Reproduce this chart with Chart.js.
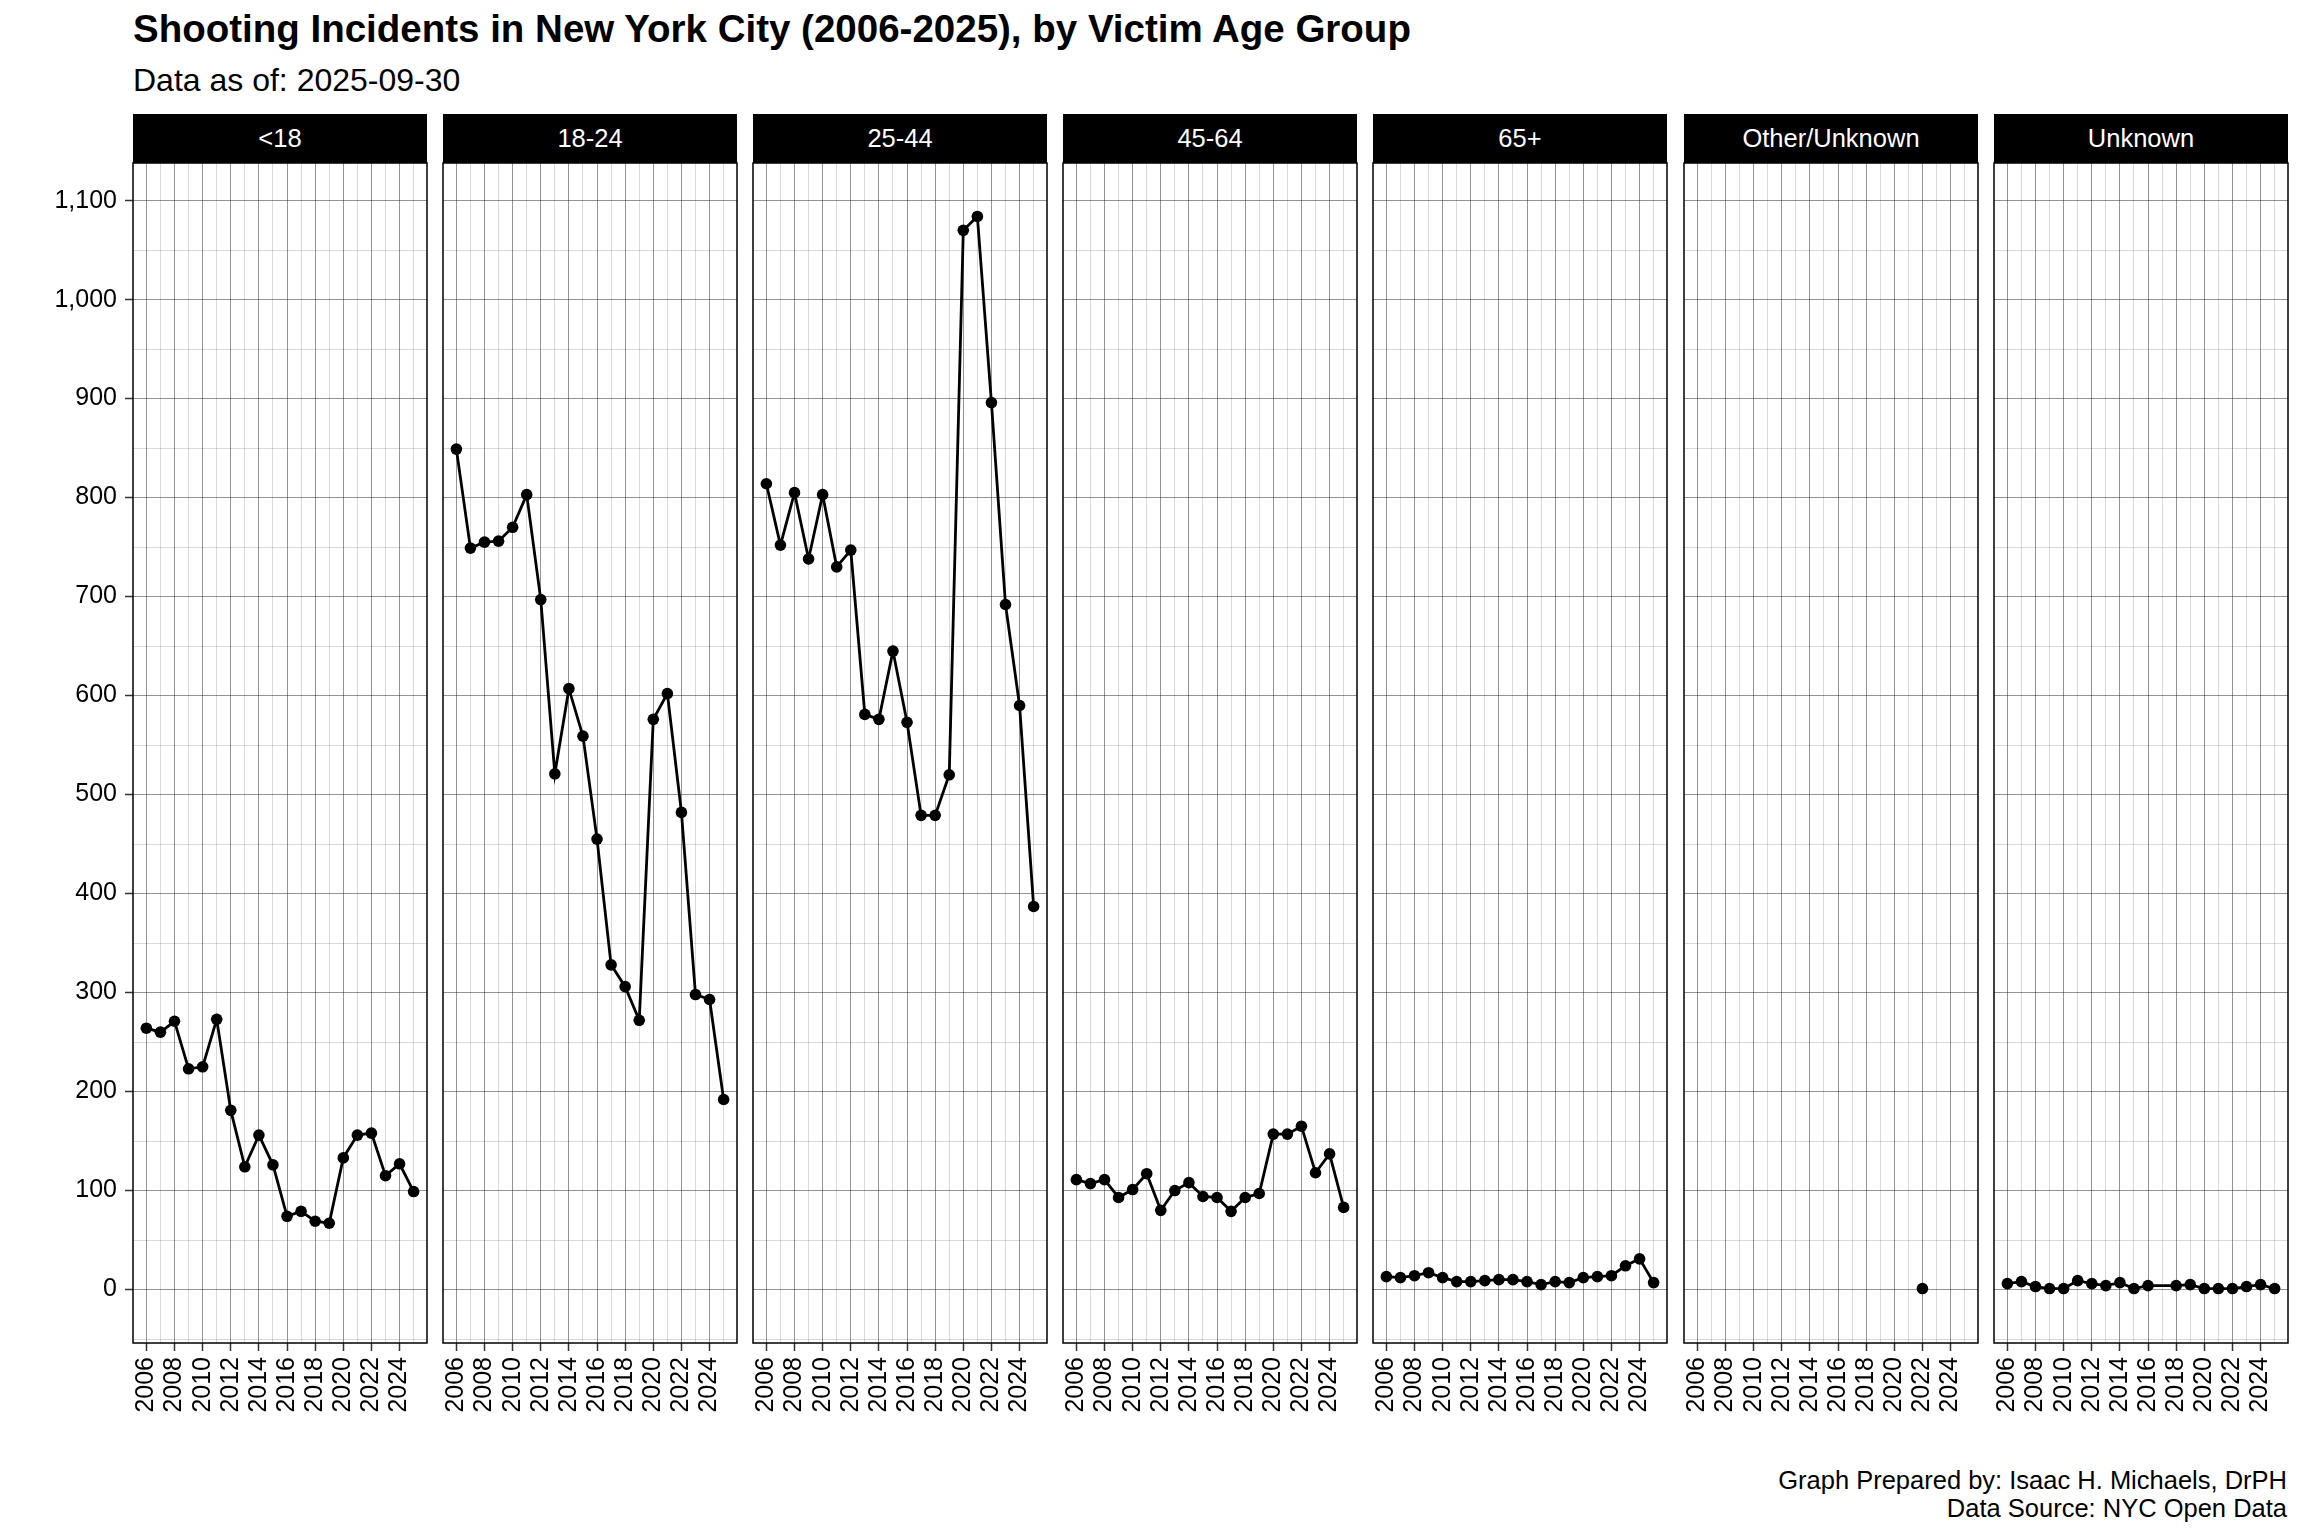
<!DOCTYPE html>
<html>
<head>
<meta charset="utf-8">
<script src="https://cdn.jsdelivr.net/npm/chart.js@4.4.1/dist/chart.umd.min.js"></script>
<style>
  html, body { margin: 0; padding: 0; background: #fff; }
  body { width: 2304px; height: 1536px; position: relative; overflow: hidden; font-family: "Liberation Sans", Arial, sans-serif; color: #000; }
  .title { position: absolute; left: 133px; top: 10px; font-size: 38.5px; font-weight: bold; line-height: 1; white-space: nowrap; }
  .subtitle { position: absolute; left: 133px; top: 64px; font-size: 32px; line-height: 1; white-space: nowrap; }
  .strip { position: absolute; top: 114px; height: 49px; background: #000; color: #fff; font-size: 25.5px; display: flex; align-items: center; justify-content: center; }
  .panel { position: absolute; }
  .caption { position: absolute; right: 17px; top: 1466px; font-size: 25.5px; line-height: 28px; text-align: right; white-space: nowrap; }
</style>
</head>
<body>
<div class="title">Shooting Incidents in New York City (2006-2025), by Victim Age Group</div>
<div class="subtitle">Data as of: 2025-09-30</div>
<div class="caption">Graph Prepared by: Isaac H. Michaels, DrPH<br>Data Source: NYC Open Data</div>

<script>
// anos e grupos
const years = [2006, 2007, 2008, 2009, 2010, 2011, 2012, 2013, 2014, 2015,
               2016, 2017, 2018, 2019, 2020, 2021, 2022, 2023, 2024, 2025];
const groups = ["<18", "18-24", "25-44", "45-64", "65+", "Other/Unknown", "Unknown"];

const under18 = [264, 260, 271, 223, 225, 273, 181, 124, 156, 126, 74, 79, 69, 67, 133, 156, 158, 115, 127, 99];
const age18to24 = [849, 749, 755, 756, 770, 803, 697, 521, 607, 559, 455, 328, 306, 272, 576, 602, 482, 298, 293, 192];
const age25to44 = [814, 752, 805, 738, 803, 730, 747, 581, 576, 645, 573, 479, 479, 520, 1070, 1084, 896, 692, 590, 387];
const age45to64 = [111, 107, 111, 93, 101, 117, 80, 100, 108, 94, 93, 79, 93, 97, 157, 157, 165, 118, 137, 83];
const age65plus = [13, 12, 14, 17, 12, 8, 8, 9, 10, 10, 8, 5, 8, 7, 12, 13, 14, 24, 31, 7];
const otherUnknown = [null, null, null, null, null, null, null, null, null, null,
                      null, null, null, null, null, null, 1, null, null, null];
const unknown = [6, 8, 3, 1, 1, 9, 6, 4, 7, 1, 4, null, 4, 5, 1, 1, 1, 3, 5, 1];

const seriesList = [under18, age18to24, age25to44, age45to64, age65plus, otherUnknown, unknown];

const yMin = -54;
const yMax = 1138;
const xMin = 2005.05;
const xMax = 2025.95;

Chart.defaults.font.family = '"Liberation Sans", Arial, sans-serif';
Chart.defaults.color = "#000";

const panelBorder = {
    id: "panelBorder",
    afterDatasetsDraw(chart) {
        const a = chart.chartArea;
        const ctx = chart.ctx;
        ctx.save();
        ctx.strokeStyle = "#000";
        ctx.lineWidth = 1.5;
        ctx.strokeRect(a.left, a.top, a.right - a.left, a.bottom - a.top);
        ctx.restore();
    }
};

function gridColor(major) {
    return major ? "rgba(0,0,0,0.42)" : "rgba(0,0,0,0.15)";
}

const plotTop = 163;
const plotBottom = 1343;
const panelWidth = 294;
const axisHeight = 115;

function criarPainel(i) {
    const panelLeft = Math.round(133 + i * 310.1);
    const first = i === 0;

    const strip = document.createElement("div");
    strip.className = "strip";
    strip.style.left = panelLeft + "px";
    strip.style.width = panelWidth + "px";
    strip.textContent = groups[i];
    document.body.appendChild(strip);

    const canvasLeft = first ? 0 : panelLeft - 2;
    const canvasWidth = first ? panelLeft + panelWidth + 2 : panelWidth + 4;
    const canvasHeight = (plotBottom - plotTop) + 2 + axisHeight;

    const wrap = document.createElement("div");
    wrap.className = "panel";
    wrap.style.left = canvasLeft + "px";
    wrap.style.top = (plotTop - 2) + "px";
    const canvas = document.createElement("canvas");
    canvas.width = canvasWidth;
    canvas.height = canvasHeight;
    wrap.appendChild(canvas);
    document.body.appendChild(wrap);

    const values = seriesList[i];
    const points = years.map((y, k) => ({ x: y, y: values[k] }));

    new Chart(canvas.getContext("2d"), {
        type: "line",
        data: {
            datasets: [{
                data: points,
                borderColor: "#000",
                backgroundColor: "#000",
                borderWidth: 2.8,
                pointRadius: 5.8,
                pointBorderWidth: 0,
                pointBackgroundColor: "#000",
                spanGaps: true,
                tension: 0
            }]
        },
        options: {
            responsive: false,
            animation: false,
            layout: { autoPadding: false, padding: { left: first ? 0 : 2, right: 2, top: 2, bottom: 0 } },
            plugins: { legend: { display: false }, tooltip: { enabled: false } },
            scales: {
                x: {
                    type: "linear",
                    min: xMin,
                    max: xMax,
                    border: { display: false },
                    grid: {
                        color: (c) => gridColor(c.tick && c.tick.value % 2 === 0),
                        tickColor: (c) => (c.tick && c.tick.value % 2 === 0) ? "#333" : "rgba(0,0,0,0)",
                        tickLength: 8,
                        tickWidth: 1.5,
                        lineWidth: 1
                    },
                    ticks: {
                        stepSize: 1,
                        includeBounds: false,
                        autoSkip: false,
                        minRotation: 90,
                        maxRotation: 90,
                        padding: 6,
                        font: { size: 25 },
                        color: "#000",
                        callback: (v) => (v % 2 === 0 ? String(v) : "")
                    },
                    afterFit: (s) => { s.height = axisHeight; s.paddingLeft = 0; s.paddingRight = 0; }
                },
                y: {
                    type: "linear",
                    min: yMin,
                    max: yMax,
                    border: { display: false },
                    grid: {
                        color: (c) => gridColor(c.tick && c.tick.value % 100 === 0),
                        tickColor: (c) => (c.tick && c.tick.value % 100 === 0) ? "#333" : "rgba(0,0,0,0)",
                        drawTicks: first,
                        tickLength: 8,
                        tickWidth: 1.5,
                        lineWidth: 1
                    },
                    ticks: {
                        display: first,
                        stepSize: 50,
                        includeBounds: false,
                        autoSkip: false,
                        padding: 8,
                        font: { size: 25 },
                        color: "#000",
                        callback: (v) => (v % 100 === 0 ? v.toLocaleString("en-US") : "")
                    },
                    afterFit: (s) => { s.width = first ? panelLeft : 0; s.paddingTop = 0; s.paddingBottom = 0; }
                }
            }
        },
        plugins: [panelBorder]
    });
}

groups.forEach((g, i) => criarPainel(i));
</script>
</body>
</html>
